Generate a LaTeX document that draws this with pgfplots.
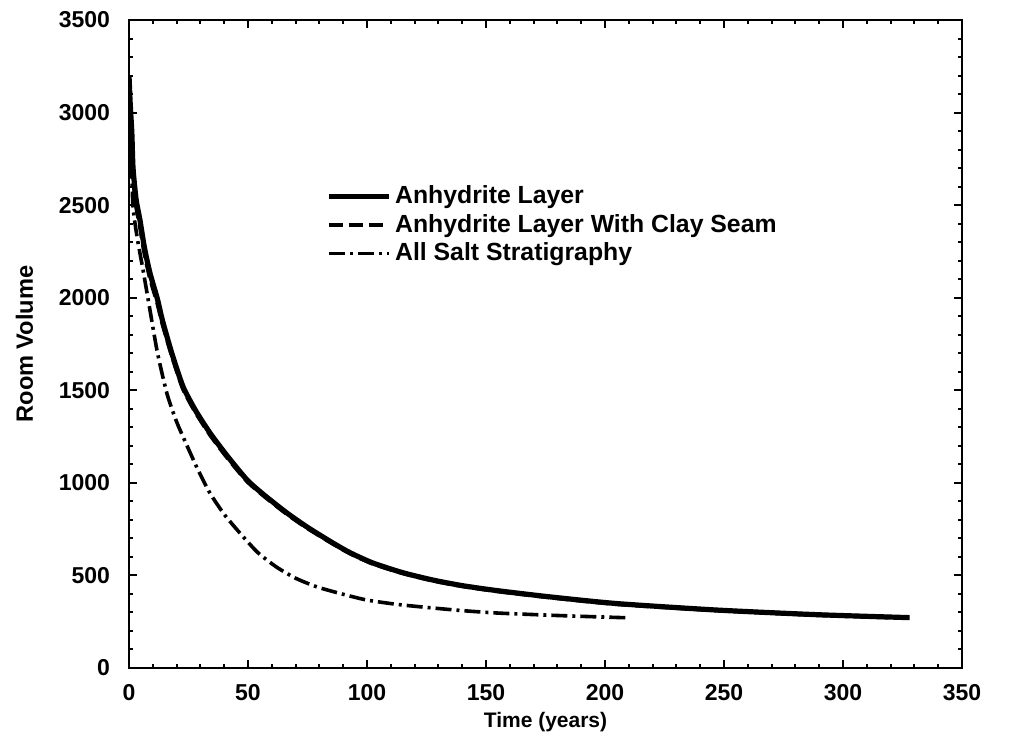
\documentclass[border=0pt]{standalone}
\usepackage{pgfplots}
\pgfplotsset{compat=1.18}
\usepackage{fontspec}
\setmainfont{Liberation Sans}
\begin{document}
\begin{tikzpicture}
\useasboundingbox (-64.5pt,-35.5pt) rectangle (447.5pt,334pt);
\begin{axis}[scale only axis, width=416.5pt, height=324pt,
  xmin=0, xmax=350, ymin=0, ymax=3500,
  xtick={0,50,...,350}, ytick={0,500,...,3500},
  minor x tick num=4, minor y tick num=4,
  tick align=inside, major tick length=4pt, minor tick length=2pt,
  axis line style={line width=1.4pt}, every tick/.style={line width=1pt, black},
  /pgf/number format/assume math mode=true,
  /pgf/number format/1000 sep={},
  tick label style={font=\fontsize{11.5}{13}\selectfont\bfseries},
  yticklabel style={xshift=-6pt},
  xticklabel style={yshift=-4.5pt},
  xlabel={Time (years)}, ylabel={Room Volume},
  xlabel style={font=\fontsize{10.5}{12}\selectfont\bfseries, yshift=1pt},
  ylabel style={font=\fontsize{11.8}{13}\selectfont\bfseries, yshift=6pt},
  legend style={at={(0.229,0.757)}, anchor=north west, draw=none, fill=none,
    font=\fontsize{12.4}{14}\selectfont\bfseries, row sep=-0.2pt},
  legend cell align=left,
  legend image code/.code={\draw[#1] (0cm,0cm) -- (1.05cm,0cm);}]
\addplot[black, line width=2.6pt, line join=round, smooth, tension=0.4] coordinates {
(0,3200) (0.5,3050) (1.2,2890) (1.7,2700) (3,2530) (4.6,2420) (6.5,2270) (8.8,2134)
(12,1990) (14,1880) (18,1700) (22.7,1520) (28,1390) (34,1270) (41,1150)
(49.6,1016) (57,932) (66.4,837) (75,760) (85.7,675) (93,622) (102.5,567)
(115,515) (127.7,475) (140,445) (154.6,418) (177,384) (205,348) (247,313)
(289,288) (328,272)};
\addlegendentry{Anhydrite Layer}
\addplot[black, line width=2.2pt, dash pattern=on 7pt off 3pt, smooth, tension=0.4] coordinates {
(0,3150) (0.5,3000) (1.2,2850) (1.7,2670) (3,2500) (4.6,2390) (6.5,2245) (8.8,2110)
(12,1970) (14,1865) (18,1690) (22.7,1510) (28,1382) (34,1262) (41,1142)
(49.6,1010) (57,927) (66.4,832) (75,756) (85.7,672) (93,619) (102.5,564)
(115,513) (127.7,473) (140,443) (154.6,416) (177,382) (205,346) (247,312)
(289,287) (328,271)};
\addlegendentry{Anhydrite Layer With Clay Seam}
\addplot[black, line width=1.8pt, dash pattern=on 8pt off 2.5pt on 1.5pt off 2.5pt, smooth, tension=0.4] coordinates {
(0,3200) (1,2750) (1.7,2490) (3.5,2320) (5.9,2150) (8.8,1934) (12,1700)
(16,1480) (20,1330) (24.4,1200) (29,1070) (34,945) (40,830) (46.6,729)
(54,625) (62,545) (70,485) (79,438) (90,398) (100,367) (113,343)
(127.7,324) (140,310) (154.6,297) (177,285) (195,277) (210,271)};
\addlegendentry{All Salt Stratigraphy}
\end{axis}
\end{tikzpicture}
\end{document}
